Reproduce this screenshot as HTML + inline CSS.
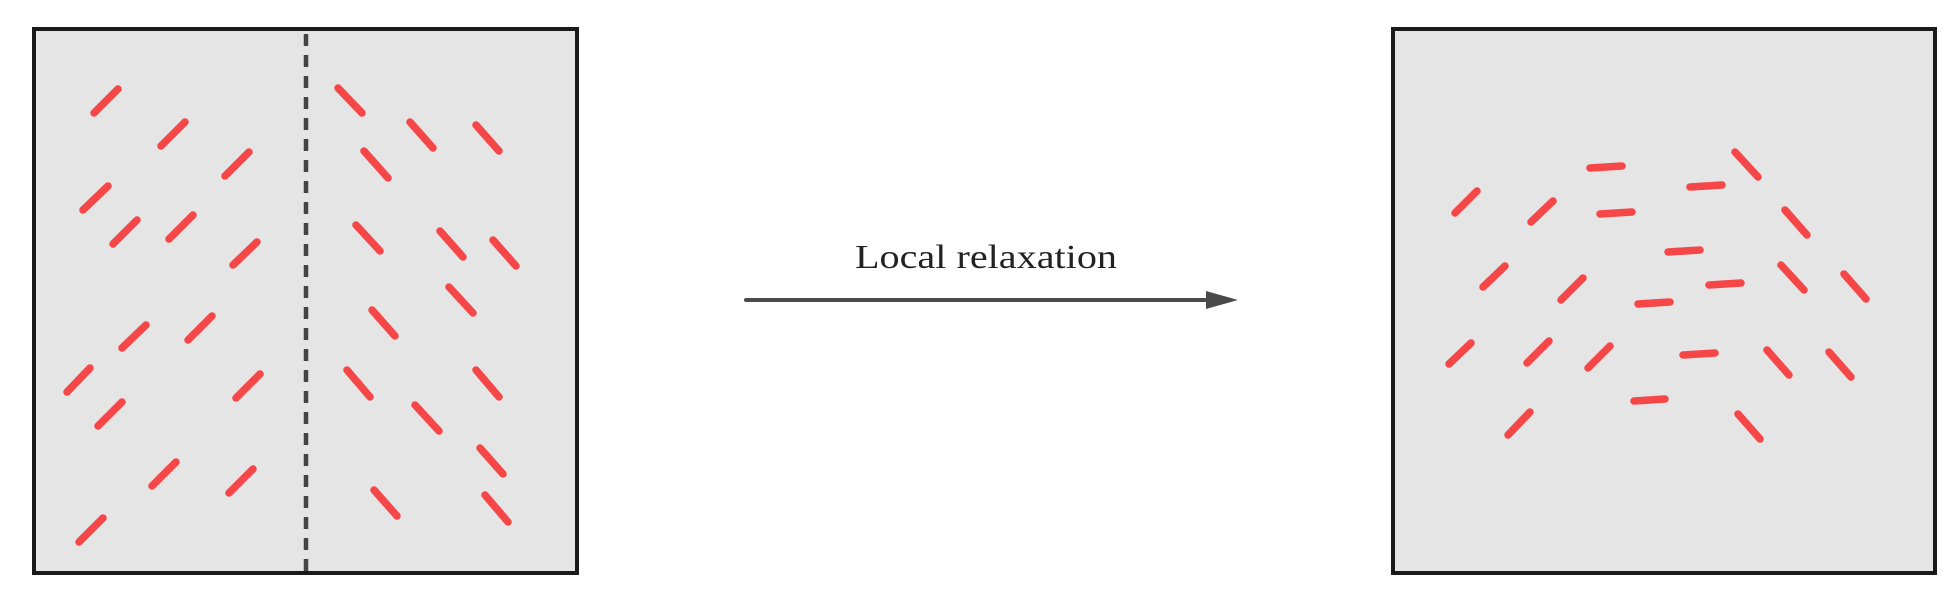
<!DOCTYPE html>
<html><head><style>html,body{margin:0;padding:0;background:#fff;}svg{display:block;}</style></head>
<body>
<svg width="1958" height="600" viewBox="0 0 1958 600" xmlns="http://www.w3.org/2000/svg">
<rect x="34" y="29" width="543" height="544" fill="#e5e5e5" stroke="#1a1a1a" stroke-width="4"/>
<line x1="306" y1="34" x2="306" y2="573" stroke="#444" stroke-width="4.5" stroke-dasharray="12,9"/>
<g stroke="#f54748" stroke-width="7.5" stroke-linecap="round">
<line x1="94" y1="113" x2="118" y2="89"/>
<line x1="161" y1="146" x2="185" y2="122"/>
<line x1="225" y1="176" x2="249" y2="152"/>
<line x1="83" y1="210" x2="108" y2="186"/>
<line x1="113" y1="244" x2="137" y2="220"/>
<line x1="169" y1="239" x2="193" y2="215"/>
<line x1="233" y1="265" x2="257" y2="242"/>
<line x1="122" y1="348" x2="146" y2="325"/>
<line x1="188" y1="340" x2="212" y2="316"/>
<line x1="67" y1="392" x2="90" y2="368"/>
<line x1="236" y1="398" x2="260" y2="374"/>
<line x1="98" y1="426" x2="122" y2="402"/>
<line x1="152" y1="486" x2="176" y2="462"/>
<line x1="229" y1="493" x2="253" y2="469"/>
<line x1="79" y1="542" x2="103" y2="518"/>
<line x1="338" y1="88" x2="362" y2="113"/>
<line x1="410" y1="122" x2="433" y2="148"/>
<line x1="476" y1="125" x2="499" y2="151"/>
<line x1="364" y1="151" x2="388" y2="178"/>
<line x1="356" y1="225" x2="380" y2="251"/>
<line x1="440" y1="231" x2="463" y2="257"/>
<line x1="493" y1="240" x2="516" y2="266"/>
<line x1="449" y1="287" x2="473" y2="313"/>
<line x1="372" y1="310" x2="395" y2="336"/>
<line x1="347" y1="370" x2="370" y2="397"/>
<line x1="476" y1="370" x2="499" y2="397"/>
<line x1="415" y1="405" x2="439" y2="431"/>
<line x1="480" y1="448" x2="503" y2="474"/>
<line x1="374" y1="490" x2="397" y2="516"/>
<line x1="485" y1="495" x2="508" y2="522"/>
</g>
<line x1="746" y1="300" x2="1210" y2="300" stroke="#4a4a4a" stroke-width="4" stroke-linecap="round"/>
<polygon points="1206,291 1238,300 1206,309" fill="#4a4a4a"/>
<text x="986" y="268" text-anchor="middle" font-family="Liberation Serif, serif" font-size="34" fill="#222" textLength="262" lengthAdjust="spacingAndGlyphs">Local relaxation</text>
<rect x="1393" y="29" width="542" height="544" fill="#e5e5e5" stroke="#1a1a1a" stroke-width="4"/>
<g stroke="#f54748" stroke-width="7.5" stroke-linecap="round">
<line x1="1455" y1="213" x2="1477" y2="191"/>
<line x1="1531" y1="222" x2="1553" y2="201"/>
<line x1="1483" y1="287" x2="1505" y2="266"/>
<line x1="1561" y1="300" x2="1583" y2="278"/>
<line x1="1449" y1="364" x2="1471" y2="343"/>
<line x1="1527" y1="363" x2="1549" y2="341"/>
<line x1="1588" y1="368" x2="1610" y2="346"/>
<line x1="1508" y1="435" x2="1530" y2="412"/>
<line x1="1735" y1="152" x2="1758" y2="177"/>
<line x1="1785" y1="210" x2="1807" y2="235"/>
<line x1="1781" y1="265" x2="1804" y2="290"/>
<line x1="1844" y1="274" x2="1866" y2="299"/>
<line x1="1767" y1="350" x2="1789" y2="375"/>
<line x1="1829" y1="352" x2="1851" y2="377"/>
<line x1="1738" y1="414" x2="1760" y2="439"/>
<line x1="1590" y1="168" x2="1622" y2="166"/>
<line x1="1690" y1="187" x2="1722" y2="185"/>
<line x1="1600" y1="214" x2="1632" y2="212"/>
<line x1="1668" y1="252" x2="1700" y2="250"/>
<line x1="1709" y1="285" x2="1741" y2="283"/>
<line x1="1638" y1="304" x2="1670" y2="302"/>
<line x1="1683" y1="355" x2="1715" y2="353"/>
<line x1="1634" y1="401" x2="1665" y2="399"/>
</g>
</svg>
</body></html>
